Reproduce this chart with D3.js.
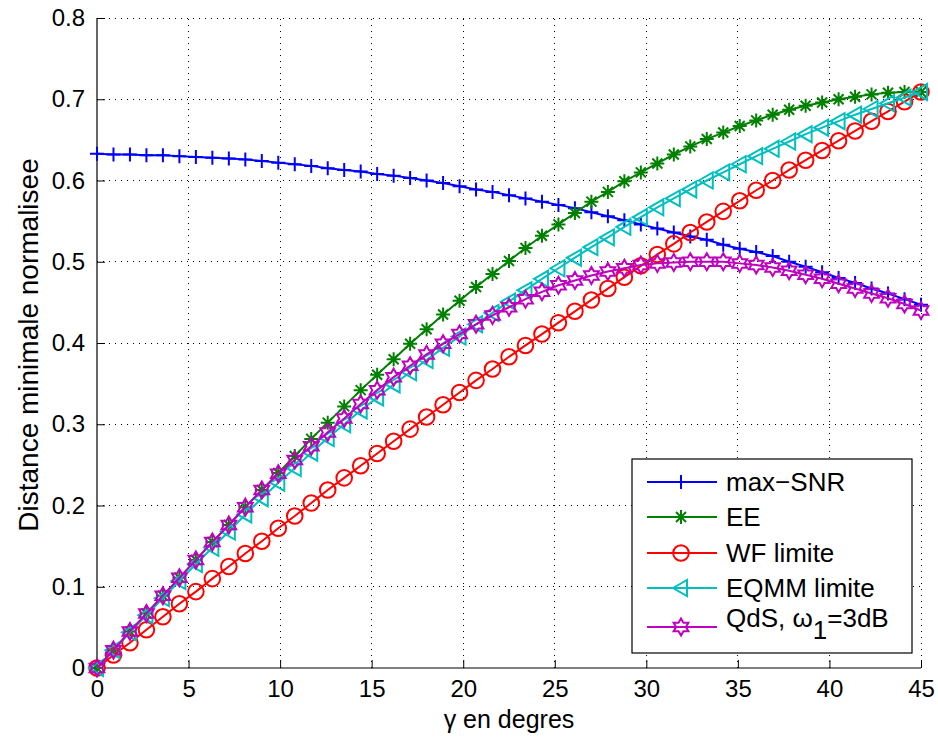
<!DOCTYPE html>
<html>
<head>
<meta charset="utf-8">
<script src="https://cdn.jsdelivr.net/npm/d3@7"></script>
<style>
  html, body { margin: 0; padding: 0; background: #fff; }
  svg { display: block; font-family: "Liberation Sans", Arial, Helvetica, sans-serif; }
</style>
</head>
<body>
<svg id="chart" width="938" height="740"></svg>
<script>
// ---- data (gamma in degrees, step 0.9) ----
const gammaDeg = d3.range(51).map(i => +(i * 0.9).toFixed(1));

const maxSNR = [0.633,0.632,0.632,0.631,0.631,0.630,0.629,0.628,0.627,0.626,
  0.624,0.622,0.620,0.618,0.615,0.613,0.611,0.608,0.606,0.603,
  0.600,0.597,0.593,0.589,0.586,0.582,0.578,0.574,0.570,0.566,
  0.561,0.556,0.551,0.546,0.541,0.536,0.531,0.527,0.521,0.516,
  0.512,0.507,0.500,0.494,0.487,0.480,0.474,0.467,0.461,0.454,0.447];

const EE = [0.000,0.022,0.045,0.067,0.089,0.111,0.133,0.155,0.176,0.198,
  0.219,0.240,0.261,0.282,0.302,0.322,0.342,0.361,0.380,0.399,
  0.417,0.435,0.452,0.469,0.485,0.501,0.517,0.532,0.546,0.560,
  0.574,0.586,0.599,0.610,0.621,0.632,0.642,0.651,0.659,0.667,
  0.674,0.681,0.687,0.692,0.696,0.700,0.703,0.706,0.708,0.709,0.709];

const WFlimite = [0.000,0.016,0.031,0.047,0.063,0.079,0.094,0.110,0.125,0.141,
  0.156,0.172,0.187,0.203,0.219,0.234,0.249,0.264,0.279,0.294,
  0.309,0.324,0.339,0.354,0.368,0.383,0.397,0.411,0.425,0.439,
  0.453,0.467,0.481,0.495,0.509,0.522,0.536,0.549,0.562,0.575,
  0.588,0.600,0.613,0.625,0.637,0.649,0.661,0.673,0.685,0.697,0.709];

const EQMMlimite = [0.000,0.022,0.044,0.065,0.086,0.107,0.128,0.148,0.168,0.189,
  0.209,0.228,0.246,0.265,0.283,0.300,0.317,0.333,0.349,0.364,
  0.379,0.394,0.408,0.423,0.437,0.451,0.465,0.479,0.492,0.505,
  0.518,0.530,0.543,0.555,0.567,0.578,0.589,0.600,0.610,0.620,
  0.630,0.639,0.648,0.657,0.665,0.673,0.681,0.688,0.695,0.702,0.709];

const QdS = [0.000,0.022,0.045,0.067,0.089,0.111,0.133,0.155,0.176,0.198,
  0.219,0.239,0.256,0.273,0.290,0.307,0.325,0.342,0.358,0.372,
  0.386,0.399,0.411,0.423,0.434,0.444,0.454,0.463,0.471,0.477,
  0.483,0.488,0.492,0.496,0.498,0.499,0.500,0.500,0.500,0.498,
  0.496,0.493,0.489,0.484,0.479,0.473,0.467,0.461,0.455,0.448,0.440];

const xTicks = [0,5,10,15,20,25,30,35,40,45];
const yTicks = [0,0.1,0.2,0.3,0.4,0.5,0.6,0.7,0.8];
const yTickLabels = ["0","0.1","0.2","0.3","0.4","0.5","0.6","0.7","0.8"];

const seriesNames = ["max\u2212SNR","EE","WF limite","EQMM limite","QdS"];
const seriesData = [maxSNR, EE, WFlimite, EQMMlimite, QdS];
const seriesColors = ["#0000ff","#008000","#ff0000","#00bfbf","#bf00bf"];
const seriesMarkers = ["plus","star","circle","triLeft","hexagram"];

// ---- layout ----
const svg = d3.select("#chart");
const x = d3.scaleLinear().domain([0,45]).range([97,921]);
const y = d3.scaleLinear().domain([0,0.8]).range([668,18]);

// grid
const grid = svg.append("g");
grid.selectAll("line.gx").data(xTicks.filter(d => d !== 0)).join("line")
  .attr("x1", d => x(d)).attr("x2", d => x(d))
  .attr("y1", y(0)).attr("y2", y(0.8))
  .attr("stroke", "#000").attr("stroke-width", 1)
  .attr("stroke-dasharray", "1,5").attr("shape-rendering","crispEdges");
grid.selectAll("line.gy").data(yTicks.filter(d => d !== 0)).join("line")
  .attr("x1", x(0)).attr("x2", x(45))
  .attr("y1", d => y(d)).attr("y2", d => y(d))
  .attr("stroke", "#000").attr("stroke-width", 1)
  .attr("stroke-dasharray", "1,5").attr("shape-rendering","crispEdges");

// axes
const xAxis = d3.axisBottom(x).tickValues(xTicks).tickSize(-8).tickPadding(12)
  .tickFormat(d3.format("d"));
const yAxis = d3.axisLeft(y).tickValues(yTicks).tickSize(-8).tickPadding(12)
  .tickFormat((d,i) => yTickLabels[i]);

const gx = svg.append("g").attr("transform", `translate(0,${y(0)})`).call(xAxis);
const gy = svg.append("g").attr("transform", `translate(${x(0)},0)`).call(yAxis);
[gx, gy].forEach(g => {
  g.select(".domain").attr("stroke","#000").attr("stroke-width",1.2);
  g.selectAll(".tick line").attr("stroke","#000");
  g.selectAll("text").attr("font-size", 24).attr("fill","#000")
    .attr("font-family", '"Liberation Sans", Arial, sans-serif');
});
gx.select(".domain").attr("d", `M${x(0)},0H${x(45)}`);
gy.select(".domain").attr("d", `M0,${y(0)}V${y(0.8)}`);

// axis titles
svg.append("text").attr("x", 509).attr("y", 728).attr("text-anchor","middle")
  .attr("font-size", 25).text("\u03b3 en degres");
svg.append("text").attr("transform", "translate(38,345) rotate(-90)")
  .attr("text-anchor","middle").attr("font-size", 28)
  .text("Distance minimale normalisee");

// marker drawing
function markerPath(type) {
  switch(type) {
    case "plus": return "M-7,0H7M0,-7V7";
    case "star": return "M-7,0H7M0,-7V7M-5,-5L5,5M-5,5L5,-5";
    case "circle": return d3.symbol(d3.symbolCircle, Math.PI*7.8*7.8)();
    case "triLeft": return "M-8,0L6,-8L6,8Z";
    case "hexagram": {
      const R = 8.5, r = R/Math.sqrt(3);
      const pts = [];
      for (let k = 0; k < 12; k++) {
        const a = -Math.PI/2 + k*Math.PI/6;
        const rr = k % 2 === 0 ? R : r;
        pts.push([rr*Math.cos(a), rr*Math.sin(a)]);
      }
      return "M" + pts.map(p => p[0].toFixed(2)+","+p[1].toFixed(2)).join("L") + "Z";
    }
  }
}

const line = d3.line().x((d,i) => x(gammaDeg[i])).y(d => y(d));

const plot = svg.append("g");
seriesData.forEach((data, s) => {
  const g = plot.append("g");
  g.append("path").datum(data).attr("d", line)
    .attr("fill","none").attr("stroke", seriesColors[s]).attr("stroke-width", 2);
  g.selectAll("path.m").data(data).join("path").attr("class","m")
    .attr("transform", (d,i) => `translate(${x(gammaDeg[i])},${y(d)})`)
    .attr("d", markerPath(seriesMarkers[s]))
    .attr("fill","none").attr("stroke", seriesColors[s]).attr("stroke-width", 2);
});

// legend
const leg = svg.append("g");
leg.append("rect").attr("x", 632).attr("y", 459).attr("width", 280).attr("height", 194)
  .attr("fill","#fff").attr("stroke","#000").attr("stroke-width",1.2);
const rowY = [482, 517, 553, 588, 627];
seriesNames.forEach((name, s) => {
  const ry = rowY[s];
  leg.append("line").attr("x1", 647).attr("x2", 717).attr("y1", ry).attr("y2", ry)
    .attr("stroke", seriesColors[s]).attr("stroke-width", 2);
  leg.append("path").attr("transform", `translate(681,${ry})`)
    .attr("d", markerPath(seriesMarkers[s]))
    .attr("fill","none").attr("stroke", seriesColors[s]).attr("stroke-width", 2);
  if (s < 4) {
    leg.append("text").attr("x", 726).attr("y", ry + 9).attr("font-size", 26).text(name);
  } else {
    const t = leg.append("text").attr("x", 726).attr("y", 627).attr("font-size", 26);
    t.append("tspan").text("QdS, \u03c9");
    t.append("tspan").attr("dy", 12).text("1");
    t.append("tspan").attr("dy", -12).text("=3dB");
  }
});
</script>
</body>
</html>
